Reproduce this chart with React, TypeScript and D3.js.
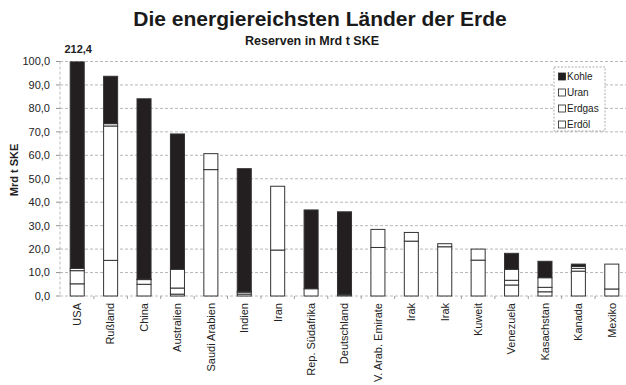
import React from "react";
import * as d3 from "d3";

const categories = ["USA", "Rußland", "China", "Australien", "Saudi Arabien", "Indien", "Iran", "Rep. Südafrika", "Deutschland", "V. Arab. Emirate", "Irak", "Irak", "Kuweit", "Venezuela", "Kasachstan", "Kanada", "Mexiko"];
const erdoel = [5.2, 15.2, 5.0, 0.8, 53.9, 0.8, 19.6, 0.0, 0.0, 20.7, 23.4, 21.0, 15.3, 4.7, 1.8, 10.6, 3.0];
const erdgas = [5.6, 57.3, 2.0, 2.6, 6.8, 0.8, 27.2, 0.0, 0.5, 7.7, 3.7, 1.3, 4.7, 2.0, 1.9, 1.2, 10.6];
const uran = [1.0, 1.0, 0.2, 8.0, 0.0, 0.3, 0.0, 3.1, 0.3, 0, 0, 0, 0, 4.7, 4.1, 0.8, 0];
const kohle = [200.6, 20.2, 76.9, 57.7, 0, 52.4, 0, 33.6, 35.1, 0, 0, 0, 0, 6.8, 7.0, 1.0, 0];
const seriesNames = ["Erdöl", "Erdgas", "Uran", "Kohle"];
const yTicks = [0, 10, 20, 30, 40, 50, 60, 70, 80, 90, 100];

const W = 626, H = 385;
const FONT = "'Liberation Sans', Arial, sans-serif";
const DARK = "#231f20";

export default function App() {
  const rows = categories.map((c, i) => ({ c, Erdöl: erdoel[i], Erdgas: erdgas[i], Uran: uran[i], Kohle: kohle[i] }));
  const stack = d3.stack<any>().keys(seriesNames)(rows);
  const x = d3.scaleBand().domain(categories.map((c, i) => i + "")).range([60.5, 628.5]).paddingInner(0.58).paddingOuter(0.29);
  const y = d3.scaleLinear().domain([0, 100]).range([296, 61.5]);
  const fmt = (v: number) => d3.format(".1f")(v).replace(".", ",");
  const fill: Record<string, string> = { "Erdöl": "#fff", "Erdgas": "#fff", "Uran": "#fff", "Kohle": DARK };
  const totals = rows.map(r => r.Erdöl + r.Erdgas + r.Uran + r.Kohle);
  const step = x.step();
  const legendItems = seriesNames.slice().reverse();

  return (
    <svg width={W} height={H} style={{ position: "absolute", left: 0, top: 0, background: "#fff" }} fontFamily={FONT}>
      <rect width={W} height={H} fill="#fff" />
      <text x={320} y={26} textAnchor="middle" fontSize={21} fontWeight="bold" fill="#1a1a1a">Die energiereichsten Länder der Erde</text>
      <text x={312} y={45} textAnchor="middle" fontSize={12.5} fontWeight="bold" fill="#1a1a1a">Reserven in Mrd t SKE</text>
      {/* gridlines */}
      {yTicks.map(t => (
        <g key={t}>
          {t > 0 && <line x1={60} x2={626} y1={y(t)} y2={y(t)} stroke="#a5a5a5" strokeWidth={0.8} strokeDasharray="3,2" />}
          <line x1={56} x2={60} y1={y(t)} y2={y(t)} stroke="#777" strokeWidth={0.8} />
          <text x={50} y={y(t)} dy="0.35em" textAnchor="end" fontSize={11} fill="#222">{fmt(t)}</text>
        </g>
      ))}
      <line x1={60} x2={60} y1={y(100)} y2={y(0)} stroke="#aaa" strokeWidth={0.8} strokeDasharray="3,2" />
      <line x1={60} x2={626} y1={y(0)} y2={y(0)} stroke="#aaa" strokeWidth={0.8} strokeDasharray="3,2" />
      {categories.map((c, i) => (
        <line key={"tk" + i} x1={60.5 + step * (i + 1)} x2={60.5 + step * (i + 1)} y1={y(0)} y2={y(0) + 3} stroke="#888" strokeWidth={0.8} />
      ))}
      <text transform={`translate(14,170) rotate(-90)`} textAnchor="middle" dy="0.35em" fontSize={11} fontWeight="bold" fill="#222">Mrd t SKE</text>
      {/* bars */}
      <defs>
        <clipPath id="plotclip"><rect x={55} y={y(100)} width={580} height={y(0) - y(100) + 2} /></clipPath>
      </defs>
      <g clipPath="url(#plotclip)">
        {stack.map(s => s.map((d, i) => {
          if (d[1] - d[0] <= 0) return null;
          const top = Math.max(y(d[1]), y(100));
          return (
            <rect key={s.key + i} x={x(i + "")!} width={x.bandwidth()} y={top} height={y(d[0]) - top}
              fill={fill[s.key]} stroke="#333" strokeWidth={1} />
          );
        }))}
      </g>
      <text x={(x("0")! + x.bandwidth() / 2) + 1} y={53} textAnchor="middle" fontSize={11} fontWeight="bold" fill="#222">{fmt(totals[0])}</text>
      {/* x labels */}
      {categories.map((c, i) => (
        <text key={"xl" + i} transform={`translate(${x(i + "")! + x.bandwidth() / 2},303) rotate(-90)`} dy="0.35em" textAnchor="end" fontSize={11} fill="#222">{c}</text>
      ))}
      {/* legend */}
      <rect x={554} y={67} width={51} height={64} fill="#fff" stroke="#999" strokeWidth={0.8} strokeDasharray="2,1.5" />
      {legendItems.map((k, j) => (
        <g key={k} transform={`translate(558.5,${76.5 + j * 16})`}>
          <rect x={0} y={-3.5} width={7} height={7} fill={fill[k]} stroke="#222" strokeWidth={0.8} />
          <text x={8.5} y={0} dy="0.35em" fontSize={10} fill="#222">{k}</text>
        </g>
      ))}
    </svg>
  );
}
